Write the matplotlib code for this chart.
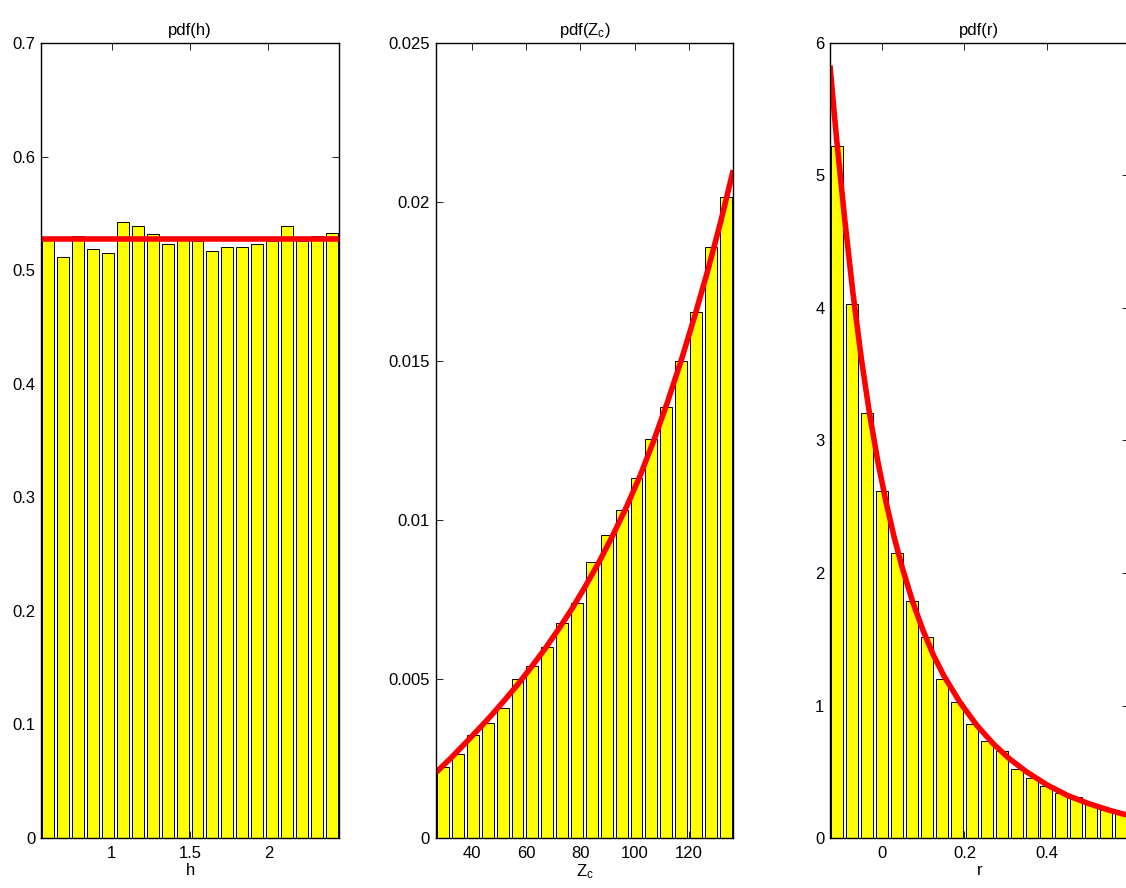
"""Three histogram panels with fitted pdf curves (pdf(h), pdf(Z_c), pdf(r))."""

import matplotlib
matplotlib.use("Agg")
import matplotlib.pyplot as plt
import numpy as np

plt.rcParams["font.family"] = ["Liberation Sans", "DejaVu Sans"]
plt.rcParams["mathtext.fontset"] = "custom"
plt.rcParams["mathtext.rm"] = "Liberation Sans"
plt.rcParams["mathtext.it"] = "Liberation Sans"

# --- pdf(h) ---
h_range = (0.55, 2.45)
h_pdf = [0.527, 0.512, 0.530, 0.519, 0.515, 0.542, 0.539, 0.532, 0.523, 0.528,
         0.526, 0.517, 0.520, 0.520, 0.523, 0.526, 0.539, 0.526, 0.530, 0.533]
h_fit_x = [0.55, 2.45]
h_fit_y = [0.527, 0.527]
h_yticks = [0, 0.1, 0.2, 0.3, 0.4, 0.5, 0.6, 0.7]
h_yticklabels = ["0", "0.1", "0.2", "0.3", "0.4", "0.5", "0.6", "0.7"]
h_xticks = [1, 1.5, 2]
h_xticklabels = ["1", "1.5", "2"]

# --- pdf(Z_c) ---
z_range = (26.8, 136.2)
z_pdf = [0.00224, 0.00264, 0.00324, 0.00361, 0.00408, 0.00499, 0.00541, 0.00602,
         0.00675, 0.00738, 0.00869, 0.00954, 0.01030, 0.01132, 0.01254, 0.01356,
         0.01499, 0.01655, 0.01857, 0.02015]
z_fit_x = [26.8, 32, 37, 42, 47, 52, 57, 62, 67, 72, 77, 82, 87, 92, 97,
           102, 107, 112, 117, 122, 127, 131.5, 136.2]
z_fit_y = [0.00205, 0.00248, 0.00292, 0.00337, 0.00383, 0.00432, 0.00483, 0.00538,
           0.00595, 0.00657, 0.00722, 0.00794, 0.00870, 0.00953, 0.01042, 0.01140,
           0.01250, 0.01370, 0.01500, 0.01640, 0.01790, 0.01935, 0.02100]
z_yticks = [0, 0.005, 0.01, 0.015, 0.02, 0.025]
z_yticklabels = ["0", "0.005", "0.01", "0.015", "0.02", "0.025"]
z_xticks = [40, 60, 80, 100, 120]
z_xticklabels = ["40", "60", "80", "100", "120"]

# --- pdf(r) ---
r_range = (-0.1253, 0.597)
r_pdf = [5.22, 4.03, 3.21, 2.62, 2.15, 1.79, 1.52, 1.20, 1.03, 0.86,
         0.73, 0.66, 0.52, 0.45, 0.39, 0.34, 0.31, 0.26, 0.21, 0.18]
r_fit_x = [-0.1253, -0.11, -0.09, -0.07, -0.05, -0.03, -0.01, 0.01, 0.03, 0.05,
           0.075, 0.10, 0.125, 0.15, 0.19, 0.23, 0.27, 0.31, 0.35, 0.40,
           0.45, 0.50, 0.55, 0.597]
r_fit_y = [5.83, 5.30, 4.68, 4.12, 3.63, 3.21, 2.85, 2.54, 2.27, 2.035,
           1.78, 1.565, 1.38, 1.225, 1.02, 0.85, 0.71, 0.595, 0.50, 0.40,
           0.32, 0.26, 0.21, 0.17]
r_yticks = [0, 1, 2, 3, 4, 5, 6]
r_yticklabels = ["0", "1", "2", "3", "4", "5", "6"]
r_xticks = [0, 0.2, 0.4]
r_xticklabels = ["0", "0.2", "0.4"]

BAR_COLOR = "#FFFF00"
FIT_COLOR = "#FF0000"


def draw_panel(ax, rng, pdf, fit_x, fit_y, ylim, yticks, yticklabels,
               xticks, xticklabels, title, xlabel):
    nbins = len(pdf)
    binw = (rng[1] - rng[0]) / nbins
    centers = rng[0] + binw * (np.arange(nbins) + 0.5)
    ax.bar(centers, pdf, width=0.8 * binw, color=BAR_COLOR,
           edgecolor="black", linewidth=0.7, zorder=1)
    ax.plot(fit_x, fit_y, color=FIT_COLOR, lw=4, solid_capstyle="butt",
            solid_joinstyle="round", zorder=3)
    ax.set_xlim(*rng)
    ax.set_ylim(*ylim)
    ax.set_yticks(yticks)
    ax.set_yticklabels(yticklabels)
    ax.set_xticks(xticks)
    ax.set_xticklabels(xticklabels)
    ax.set_axisbelow(True)
    ax.tick_params(direction="in", length=5, width=0.6, top=True, right=True,
                   labelsize=12, colors="black")
    ax.tick_params(axis="x", pad=6)
    ax.tick_params(axis="y", pad=4)
    for sp in ax.spines.values():
        sp.set_linewidth(1.0)
        sp.set_color("black")
        sp.set_zorder(4)
    ax.set_title(title, fontsize=12, pad=6)
    ax.set_xlabel(xlabel, fontsize=12, labelpad=1)


fig = plt.figure(figsize=(11.26, 8.88), dpi=100, facecolor="white")
bottom, height = 0.0563, 0.8953
ax1 = fig.add_axes([0.0364, bottom, 0.2647, height])
ax2 = fig.add_axes([0.3869, bottom, 0.2643, height])
ax3 = fig.add_axes([0.7371, bottom, 0.2652, height])

draw_panel(ax1, h_range, h_pdf, h_fit_x, h_fit_y, (0, 0.7), h_yticks, h_yticklabels,
           h_xticks, h_xticklabels, "pdf(h)", "h")
draw_panel(ax2, z_range, z_pdf, z_fit_x, z_fit_y, (0, 0.025), z_yticks, z_yticklabels,
           z_xticks, z_xticklabels, r"pdf($\mathregular{Z_c}$)", r"$\mathregular{Z_c}$")
draw_panel(ax3, r_range, r_pdf, r_fit_x, r_fit_y, (0, 6), r_yticks, r_yticklabels,
           r_xticks, r_xticklabels, "pdf(r)", "r")

fig.savefig("out.png", dpi=100, facecolor="white")
